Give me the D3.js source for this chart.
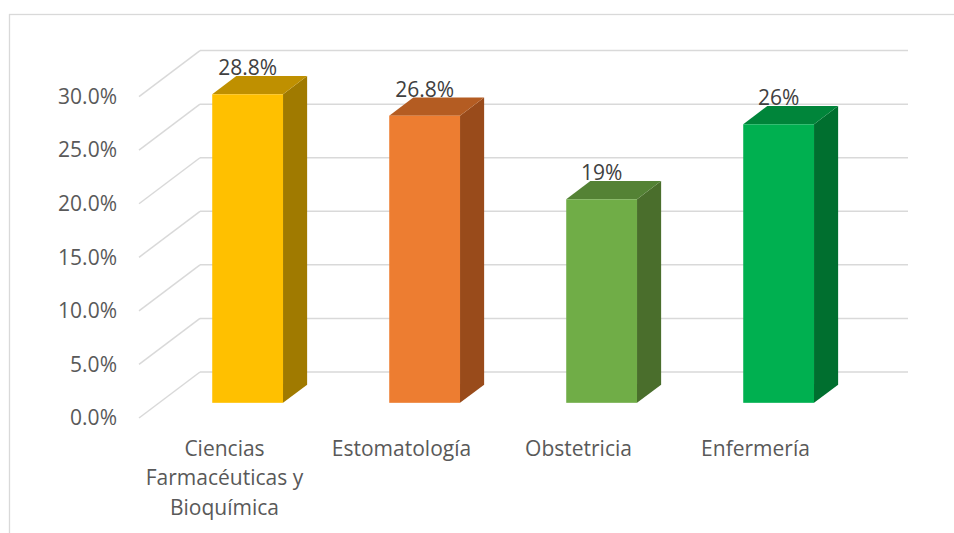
<!DOCTYPE html>
<html>
<head>
<meta charset="utf-8">
<script src="https://cdn.jsdelivr.net/npm/d3@7/dist/d3.min.js"></script>
<style>
  html, body { margin: 0; padding: 0; background: #ffffff; }
  svg { display: block; }
  text { font-family: "Open Sans", "Noto Sans", sans-serif; }
</style>
</head>
<body>
<svg id="chart" width="954" height="533"></svg>
<script>
// Percentage of students by faculty
const categories = ["Ciencias Farmacéuticas y Bioquímica", "Estomatología", "Obstetricia", "Enfermería"];
const values = [28.8, 26.8, 19, 26];
const valueLabels = ["28.8%", "26.8%", "19%", "26%"];
const yTicks = [0, 5, 10, 15, 20, 25, 30];

// Face colours per bar: front, top, side
const frontColors = ["#FFC000", "#ED7D31", "#70AD47", "#00B050"];
const topColors   = ["#BF9000", "#B45C22", "#548235", "#00853A"];
const sideColors  = ["#A07A00", "#994B1B", "#4A6E2C", "#006F2F"];

const svg = d3.select("#chart");
const W = 954, H = 533;
const FONT = 21;

// Chart frame
svg.append("rect")
  .attr("x", 9.5).attr("y", 14.5)
  .attr("width", W).attr("height", H)
  .attr("fill", "#fff").attr("stroke", "#D9D9D9").attr("stroke-width", 1.3);

// Front plane of the 3D box and depth offset toward the back wall
const front = { left: 139, right: 847, bottom: 418, top: 96.6 };
const DEPTH = { dx: 61, dy: -46 };
const barZ = [0.33, 0.725]; // bar placed between these depth fractions

const x = d3.scaleBand()
  .domain(categories)
  .range([front.left, front.right])
  .paddingInner(0.6)
  .paddingOuter(0.3);

const y = d3.scaleLinear()
  .domain([0, 30])
  .range([front.bottom, front.top]);

// projection of (front-plane px x, value, depth fraction) onto the screen
const proj = (px, v, z) => [px + z * DEPTH.dx, y(v) + z * DEPTH.dy];

const grid = svg.append("g").attr("stroke", "#D9D9D9").attr("stroke-width", 1.5).attr("fill", "none");
// back wall gridlines
grid.selectAll("line.back")
  .data(yTicks)
  .join("line")
  .attr("class", "back")
  .attr("x1", d => proj(front.left, d, 1)[0])
  .attr("x2", d => proj(front.right, d, 1)[0])
  .attr("y1", d => proj(front.left, d, 1)[1])
  .attr("y2", d => proj(front.left, d, 1)[1]);
// side wall diagonals
grid.selectAll("line.side")
  .data(yTicks)
  .join("line")
  .attr("class", "side")
  .attr("x1", d => proj(front.left, d, 0)[0])
  .attr("y1", d => proj(front.left, d, 0)[1])
  .attr("x2", d => proj(front.left, d, 1)[0])
  .attr("y2", d => proj(front.left, d, 1)[1]);

// Bars
const bars = svg.append("g");
const poly = pts => pts.map(p => p.join(",")).join(" ");
categories.forEach((c, i) => {
  const x0 = x(c), x1 = x(c) + x.bandwidth(), v = values[i];
  const g = bars.append("g");
  // side face
  g.append("polygon")
    .attr("points", poly([proj(x1, 0, barZ[0]), proj(x1, v, barZ[0]), proj(x1, v, barZ[1]), proj(x1, 0, barZ[1])]))
    .attr("fill", sideColors[i]);
  // top face
  g.append("polygon")
    .attr("points", poly([proj(x0, v, barZ[0]), proj(x1, v, barZ[0]), proj(x1, v, barZ[1]), proj(x0, v, barZ[1])]))
    .attr("fill", topColors[i]);
  // front face
  const p0 = proj(x0, v, barZ[0]), p1 = proj(x1, 0, barZ[0]);
  g.append("rect")
    .attr("x", p0[0]).attr("y", p0[1])
    .attr("width", p1[0] - p0[0]).attr("height", p1[1] - p0[1])
    .attr("fill", frontColors[i]);
  // value label
  const lp = proj((x0 + x1) / 2, v, barZ[0]);
  const bp = proj(x0, v, barZ[1]);
  g.append("text")
    .attr("x", lp[0]).attr("y", bp[1] - 1)
    .attr("text-anchor", "middle")
    .attr("font-size", FONT)
    .attr("fill", "#404040")
    .text(valueLabels[i]);
});

// Value axis on the front plane
const yAxis = svg.append("g")
  .attr("transform", `translate(${front.left},0)`)
  .call(d3.axisLeft(y).tickValues(yTicks).tickSize(0).tickPadding(22).tickFormat(d => d.toFixed(1) + "%"));
yAxis.select(".domain").remove();
yAxis.selectAll("text").attr("font-size", FONT).attr("fill", "#595959").attr("font-family", null);

// Category axis along the front floor edge
const xAxis = svg.append("g")
  .attr("transform", `translate(-3,${front.bottom})`)
  .call(d3.axisBottom(x).tickSize(0).tickPadding(23));
xAxis.select(".domain").remove();
xAxis.selectAll("text")
  .attr("font-size", FONT).attr("fill", "#595959").attr("font-family", null)
  .each(function(d) {
    const t = d3.select(this);
    const words = d.split(" ");
    t.text(null);
    const lines = [];
    let cur = [];
    const probe = t.append("tspan");
    words.forEach(w => {
      const test = cur.concat(w).join(" ");
      probe.text(test);
      if (probe.node().getComputedTextLength() > 170 && cur.length) {
        lines.push(cur.join(" "));
        cur = [w];
      } else {
        cur.push(w);
      }
    });
    lines.push(cur.join(" "));
    probe.remove();
    lines.forEach((ln, k) => {
      t.append("tspan")
        .attr("x", 0)
        .attr("dy", k === 0 ? "0.71em" : 29.5)
        .text(ln);
    });
  });
</script>
</body>
</html>
